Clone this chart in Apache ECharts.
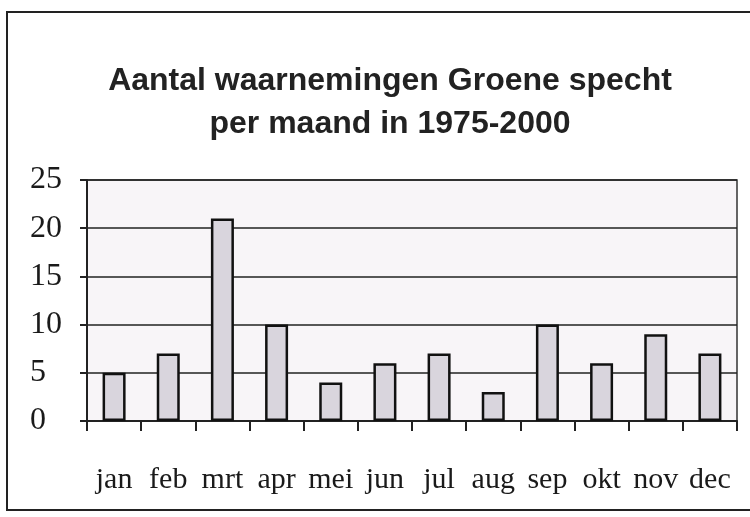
<!DOCTYPE html>
<html>
<head>
<meta charset="utf-8">
<script src="https://cdn.jsdelivr.net/npm/echarts@6/dist/echarts.min.js"></script>
<style>
html, body { margin: 0; padding: 0; background: #ffffff; }
#main { width: 750px; height: 517px; }
</style>
</head>
<body>
<div id="main"></div>
<script>
// maanden en aantallen
var maanden = ['jan', 'feb', 'mrt', 'apr', 'mei', 'jun', 'jul', 'aug', 'sep', 'okt', 'nov', 'dec'];
var aantallen = [5, 7, 21, 10, 4, 6, 7, 3, 10, 6, 9, 7];
var titel = 'Aantal waarnemingen Groene specht\nper maand in 1975-2000';

var chart = echarts.init(document.getElementById('main'));

chart.setOption({
    backgroundColor: '#ffffff',
    animation: false,
    title: {
        text: titel,
        left: 385,
        top: 55,
        textAlign: 'center',
        textStyle: {
            fontFamily: 'Liberation Sans, Arial, sans-serif',
            fontWeight: 'bold',
            fontSize: 32,
            lineHeight: 43,
            color: '#222'
        }
    },
    // kader om de hele grafiek
    graphic: [{
        type: 'rect',
        shape: { x: 7, y: 12, width: 760, height: 498 },
        style: { fill: 'none', stroke: '#222', lineWidth: 2 },
        silent: true
    }],
    grid: {
        left: 87,
        right: 13,
        top: 180,
        bottom: 96,
        show: true,
        backgroundColor: '#f8f5f8',
        borderColor: '#333',
        borderWidth: 1.5
    },
    xAxis: {
        type: 'category',
        data: maanden,
        axisLine: { lineStyle: { color: '#222', width: 2 } },
        axisTick: { show: true, interval: 0, length: 10, lineStyle: { color: '#222', width: 2 } },
        axisLabel: {
            interval: 0,
            margin: 44,
            fontFamily: 'Liberation Serif, Times New Roman, serif',
            fontSize: 30,
            color: '#1a1a1a'
        }
    },
    yAxis: {
        type: 'value',
        min: 0,
        max: 25,
        interval: 5,
        axisLine: { show: true, lineStyle: { color: '#222', width: 2 } },
        axisTick: { show: true, length: 7, lineStyle: { color: '#222', width: 2 } },
        splitLine: { lineStyle: { color: '#222', width: 1.5 } },
        axisLabel: {
            margin: 57,
            align: 'left',
            fontFamily: 'Liberation Serif, Times New Roman, serif',
            fontSize: 32,
            color: '#1a1a1a'
        }
    },
    series: [{
        type: 'bar',
        data: aantallen,
        barWidth: 23,
        itemStyle: {
            color: '#d9d5dd',
            borderColor: '#111',
            borderWidth: 2.5
        }
    }]
});
</script>
</body>
</html>
